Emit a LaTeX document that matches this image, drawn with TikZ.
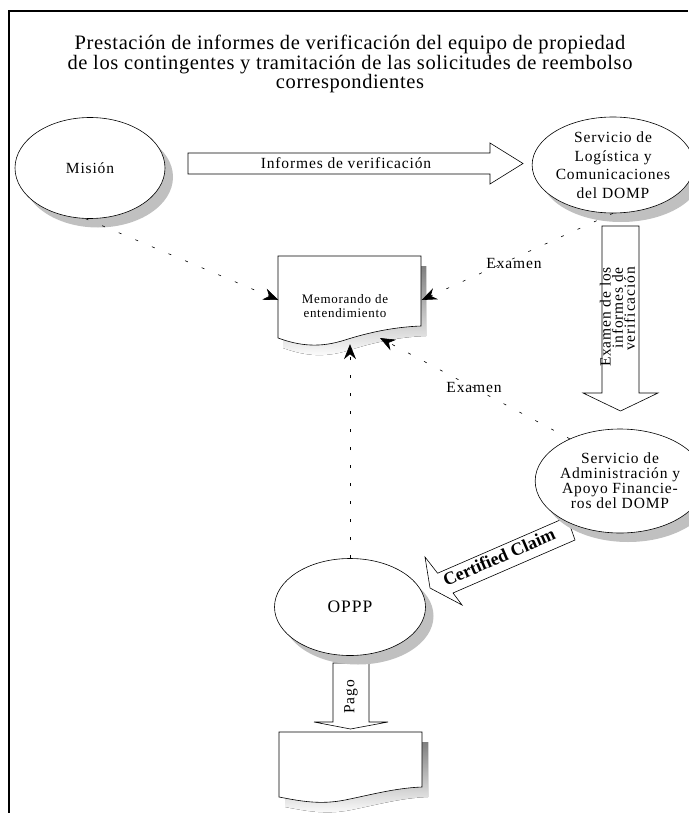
\documentclass[tikz,border=0pt]{standalone}
\usepackage{fontspec}
\setmainfont{Liberation Serif}
\newfontfamily\nf[LetterSpace=5.5]{Liberation Serif}
\newfontfamily\tf[LetterSpace=3]{Liberation Serif}
\usetikzlibrary{shapes.geometric,shadows,arrows.meta}
\definecolor{shade}{RGB}{192,192,192}
\tikzset{
  ell/.style={ellipse, draw, line width=0.6pt, fill=white, inner sep=0pt,
    drop shadow={shadow xshift=8pt, shadow yshift=-9pt, fill=shade, opacity=1},
    align=center, font=\nf\fontsize{15.5}{18.5}\selectfont},
  dcon/.style={line width=0.6pt, dash pattern=on 3pt off 15pt,
    -{Stealth[length=15pt,width=12pt,inset=5pt]}},
  blockarrow/.style={draw, line width=0.6pt, fill=white},
  lbl/.style={font=\nf\fontsize{15.5}{18.5}\selectfont, inner sep=0pt},
  docshape/.style={draw, line width=0.6pt, fill=white},
}
\begin{document}
\begin{tikzpicture}[x=1pt,y=-1pt]
\useasboundingbox (0,0) rectangle (688,813);
% frame
\draw[line width=1.6pt] (9,813) -- (9,11) -- (688,11);
% title
\node[font=\tf\fontsize{20.5}{16.5}\selectfont, align=center, inner sep=0pt] (title) at (350,64)
  {Prestación de informes de verificación del equipo de propiedad\\
   de los contingentes y tramitación de las solicitudes de reembolso\\
   correspondientes};

% block arrows
\draw[blockarrow] (188,153) -- (490,153) -- (490,143) -- (523,163.5) -- (490,184) -- (490,174) -- (188,174) -- cycle;
\node[lbl] (infotext) at (346,163) {Informes de verificación};

\draw[blockarrow] (602,226) -- (639,226) -- (639,393) -- (658,393) -- (620.5,411) -- (583,393) -- (602,393) -- cycle;
\node[lbl, font=\nf\fontsize{15.5}{10.5}\selectfont, rotate=90, anchor=east, align=right] (examtext) at (617.5,267)
  {Examen de los\\informes de\\verificación};

\draw[blockarrow] (430,588) -- (425,557) -- (437.6,573.2) -- (567,517) -- (575,540) -- (453,593) -- (462,605) -- cycle;
\node[font=\bfseries\fontsize{18}{18}\selectfont, rotate=23.5, inner sep=0pt] (certtext) at (499,557) {Certified Claim};

\draw[blockarrow] (333,663) -- (369,663) -- (369,722) -- (388,722) -- (350.5,729) -- (314,722) -- (333,722) -- cycle;
\node[lbl, rotate=90] (pagotext) at (351,697) {Pago};

% ellipses
\node[ell, minimum width=150pt, minimum height=101pt] (mision) at (90,168) {Misión};
\node[ell, minimum width=150pt, minimum height=96pt] (logis) at (613,165)
  {Servicio de\\Logística y\\Comunicaciones\\del DOMP};
\node[ell, minimum width=150pt, minimum height=104pt, font=\nf\fontsize{15.5}{15}\selectfont] (adm) at (620,481)
  {Servicio de\\Administración y\\Apoyo Financie-\\ros del DOMP};
\node[ell, minimum width=151pt, minimum height=97pt, font=\nf\fontsize{17.5}{18}\selectfont] (oppp) at (350,607) {OPPP};

% memorando document
\begin{scope}[shift={(5,10)}]
\fill[shade] (278,256) -- (421,256) -- (421,326) .. controls (395,327) and (370,332) .. (345,340) .. controls (320,348) and (300,346) .. (278,338) -- cycle;
\end{scope}
\draw[docshape] (278,256) -- (421,256) -- (421,326) .. controls (395,327) and (370,332) .. (345,340) .. controls (320,348) and (300,346) .. (278,338) -- cycle;
\node[minimum width=143pt, minimum height=88pt, inner sep=0pt] (memo) at (350,300) {};
\node[lbl, font=\nf\fontsize{13}{14}\selectfont, align=center] (memotext) at (345,306) {Memorando de\\entendimiento};
\coordinate (m3) at (380,338);

% bottom document
\begin{scope}[shift={(6,10)}]
\fill[shade] (279,732) -- (422,732) -- (422,787) .. controls (395,788) and (370,795) .. (345,800) .. controls (320,805) and (300,801) .. (279,797) -- cycle;
\end{scope}
\draw[docshape] (279,732) -- (422,732) -- (422,787) .. controls (395,788) and (370,795) .. (345,800) .. controls (320,805) and (300,801) .. (279,797) -- cycle;
\node[minimum width=143pt, minimum height=65pt, inner sep=0pt] (doc2) at (350.5,764) {};

% dashed connectors
\draw[dcon] (mision.265) -- (memo.west);
\draw[dcon] (logis.south) -- (memo.east);
\draw[dcon] (adm.140) -- (m3);
\draw[dcon] (oppp.north) -- (memo.south);
\node[lbl] (ex1) at (514,263) {Examen};
\node[lbl] (ex2) at (474,387) {Examen};
\end{tikzpicture}
\end{document}
